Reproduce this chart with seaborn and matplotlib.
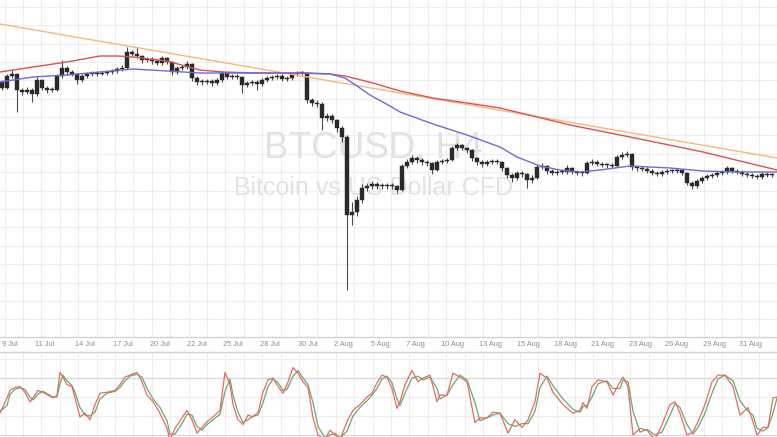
import numpy as np
import pandas as pd
import matplotlib
matplotlib.use("Agg")
import matplotlib.pyplot as plt
from matplotlib.ticker import FixedLocator
import seaborn as sns

# ---------------- data ----------------
first_open = 638
closes = [632, 644, 646, 630, 628, 630, 626, 640, 632, 630,
          630, 644, 652, 648, 646, 640, 644, 646, 647, 646,
          647, 648, 649, 651, 652, 668, 666, 664, 660, 661,
          659, 657, 662, 658, 648, 652, 653, 656, 642, 638,
          638, 639, 637, 640, 647, 643, 644, 643, 635, 637,
          638, 636, 640, 642, 643, 644, 641, 642, 646, 647,
          647, 620, 617, 616, 602, 604, 600, 592, 583, 505,
          508, 520, 532, 534, 536, 534, 535, 534, 534, 530,
          554, 558, 562, 560, 558, 557, 550, 558, 559, 560,
          572, 575, 572, 570, 562, 558, 556, 558, 559, 558,
          552, 545, 542, 547, 546, 540, 542, 553, 554, 549,
          547, 548, 548, 552, 548, 547, 547, 557, 558, 556,
          555, 555, 554, 563, 565, 566, 553, 552, 551, 549,
          547, 546, 548, 549, 549, 550, 547, 537, 534, 539,
          542, 544, 545, 547, 548, 552, 549, 548, 546, 545,
          544, 543, 546, 545, 545]
highs = [640, 646, 650, 647, 632, 633, 632, 643, 641, 634,
         633, 646, 660, 654, 650, 647, 646, 648, 649, 649,
         649, 650, 651, 653, 655, 673, 670, 673, 665, 663,
         663, 661, 664, 663, 659, 654, 655, 659, 657, 644,
         641, 641, 641, 642, 649, 648, 646, 646, 644, 639,
         640, 640, 642, 644, 645, 646, 646, 644, 648, 649,
         649, 648, 622, 620, 618, 607, 606, 601, 594, 585,
         518, 524, 536, 537, 539, 538, 537, 537, 537, 535,
         556, 561, 565, 564, 562, 560, 558, 560, 561, 562,
         574, 577, 576, 573, 571, 563, 560, 560, 561, 561,
         559, 553, 547, 549, 549, 547, 545, 555, 557, 555,
         551, 550, 550, 555, 553, 550, 549, 559, 561, 560,
         558, 557, 557, 565, 568, 569, 567, 555, 554, 553,
         551, 549, 550, 551, 551, 552, 551, 548, 539, 541,
         544, 546, 547, 549, 550, 554, 553, 551, 550, 548,
         547, 546, 548, 548, 547]
lows = [630, 631, 642, 608, 625, 626, 618, 624, 630, 627,
        628, 629, 642, 645, 644, 636, 638, 642, 644, 644,
        645, 645, 646, 647, 649, 651, 664, 662, 657, 658,
        656, 655, 655, 656, 645, 646, 650, 651, 639, 635,
        635, 636, 634, 635, 638, 641, 641, 641, 627, 633,
        635, 630, 634, 638, 640, 641, 639, 639, 640, 644,
        645, 617, 614, 613, 590, 599, 597, 588, 578, 430,
        495, 504, 517, 529, 531, 531, 531, 531, 531, 527,
        529, 552, 556, 557, 555, 554, 546, 549, 556, 557,
        559, 570, 570, 567, 559, 555, 553, 554, 556, 556,
        549, 542, 538, 540, 543, 532, 537, 541, 551, 546,
        545, 545, 546, 546, 546, 545, 544, 546, 555, 554,
        553, 552, 552, 553, 561, 563, 550, 549, 549, 547,
        545, 544, 544, 546, 547, 547, 545, 535, 531, 532,
        537, 540, 542, 543, 545, 546, 547, 546, 544, 543,
        542, 541, 541, 543, 543]

# moving averages / trendline (bar index, price)
blue_x = [-0.4, 6.2, 13, 19.6, 26.2, 33, 39.6, 51, 61.6, 65.6, 68.6, 71, 73.6, 77.6,
          79.6, 86.2, 93, 99.6, 103, 107.6, 111.6, 115.6, 119.6, 125.6, 133.6, 140.2, 147, 155]
blue_v = [638, 643, 645, 648, 651, 649, 647, 647, 647, 646, 642, 634, 625, 614,
          608, 596, 585, 573, 563, 554, 550, 548, 550, 554, 552, 549, 548, 548]
red_x = [-0.4, 6.2, 13, 19.6, 23, 26.2, 33, 36.6, 39.6, 44.2, 51, 57.6, 65.6, 68.6,
         71, 74.2, 79.6, 86.2, 93, 99.6, 113.6, 126.6, 140.2, 155]
red_v = [648, 653, 658, 664, 664, 663, 659, 654, 650, 648, 647, 647, 646, 644,
         641, 637, 629, 622, 617, 612, 595, 582, 568, 550]
trend_x = [-0.4, 155]
trend_v = [696, 562]

# stochastic oscillator (bar index, value)
osc_x = [-0.4, 1, 1.6, 2.6, 3.6, 4.6, 5.6, 6.2, 7.2, 8.2,
         9.2, 10.2, 11, 11.6, 12.2, 13, 14, 14.6, 15.6, 16.6,
         17.6, 18.6, 19.6, 21, 22.6, 23.6, 24.6, 25.6, 27, 28,
         29, 30.2, 31.6, 33, 33.6, 34.6, 36, 37, 38, 39,
         40, 41, 42.2, 43.6, 44.6, 45.6, 46.2, 47.2, 48.2, 49.2,
         50.2, 51.2, 52.2, 53.2, 54.2, 55.2, 56.2, 57, 58.2, 59.2,
         60.2, 61.2, 62.2, 63.2, 64.6, 65.6, 66.6, 67.6, 69, 70.2,
         71.6, 73, 74, 75, 76, 77, 78, 79, 79.6, 80.6,
         82, 83.2, 84.2, 85.6, 87, 87.6, 89, 90.2, 91.6, 93,
         94.6, 95.6, 97, 98.2, 99.6, 101.2, 102.6, 104, 105.2, 106.6,
         107.6, 109, 110.2, 112.2, 114.2, 115.6, 116.2, 117, 118, 119.2,
         121, 122.2, 123.6, 124.2, 125.2, 126.2, 127.6, 129, 130.6, 132,
         133.6, 134.6, 135.6, 137, 138.2, 139.2, 140.6, 142, 143.2, 144.6,
         146.2, 147.6, 149.2, 150.2, 151, 152.2, 153.2, 154.2, 155]
stoch_k = [43, 59, 67, 70, 71, 65, 55, 59, 67, 65,
           62, 59, 62, 86, 81, 73, 71, 59, 39, 43,
           36, 52, 64, 65, 67, 73, 81, 83, 86, 76,
           62, 55, 43, 27, 15, 27, 38, 46, 36, 22,
           28, 34, 39, 46, 86, 73, 52, 36, 31, 41,
           39, 44, 65, 78, 80, 71, 64, 73, 91, 85,
           76, 70, 38, 20, 15, 25, 20, 15, 34, 46,
           52, 60, 64, 75, 83, 81, 69, 48, 55, 73,
           88, 76, 80, 83, 55, 62, 62, 85, 81, 76,
           33, 38, 38, 44, 43, 22, 36, 28, 36, 55,
           85, 80, 65, 52, 43, 46, 54, 48, 71, 78,
           76, 62, 76, 81, 71, 20, 27, 25, 15, 31,
           52, 55, 43, 20, 23, 34, 52, 76, 83, 83,
           71, 41, 49, 34, 20, 28, 28, 59, 60]
stoch_d = [45, 51, 63, 68, 70, 68, 60, 57, 63, 66,
           63, 60, 60, 74, 83, 77, 72, 65, 49, 41,
           40, 44, 58, 64, 66, 70, 77, 82, 84, 81,
           69, 58, 49, 35, 21, 21, 32, 42, 41, 29,
           25, 31, 36, 42, 66, 79, 62, 44, 33, 36,
           40, 41, 54, 71, 79, 75, 67, 68, 82, 88,
           80, 73, 54, 29, 17, 20, 22, 17, 24, 40,
           49, 56, 62, 69, 79, 82, 75, 58, 51, 64,
           80, 82, 78, 81, 69, 58, 62, 73, 83, 78,
           54, 35, 38, 41, 43, 32, 29, 32, 32, 45,
           70, 82, 72, 58, 47, 44, 50, 51, 60, 74,
           77, 69, 69, 78, 76, 45, 23, 26, 20, 23,
           41, 53, 49, 31, 21, 28, 43, 64, 79, 83,
           77, 56, 45, 41, 27, 24, 28, 43, 59]

date_labels = ["9 Jul", "11 Jul", "14 Jul", "17 Jul", "20 Jul", "22 Jul", "25 Jul",
               "28 Jul", "30 Jul", "2 Aug", "5 Aug", "7 Aug", "10 Aug", "13 Aug",
               "15 Aug", "18 Aug", "21 Aug", "23 Aug", "26 Aug", "29 Aug", "31 Aug"]
date_pos = [1.6, 8.6, 16.6, 24.2, 31.6, 39, 46.2, 53.6, 61.2, 68.2, 75.6,
            82.6, 90, 97.6, 105.2, 112.6, 120, 127.6, 134.8, 142.4, 149.6]

# ---------------- drawing ----------------
sns.set_theme(style="white")
plt.rcParams['font.family'] = ['Liberation Sans', 'DejaVu Sans']

fig = plt.figure(figsize=(7.77, 4.37), dpi=100)
ax = fig.add_axes([0, 1 - 337 / 437, 1, 337 / 437])
ax2 = fig.add_axes([0, 0, 1, 85 / 437], sharex=ax)

n = len(closes)
idx = np.arange(n)
opens = np.array([first_open] + closes[:-1], dtype=float)
c = np.array(closes, dtype=float)
body_lo = np.minimum(opens, c)
body_h = np.maximum(np.abs(c - opens), 0.8)

GRID = "#eeeeee"
xmin, xmax = -0.4, 155.0
grid_x = np.arange(0.52, xmax, 3.68)

# main panel
ax.set_xlim(xmin, xmax)
ax.set_ylim(383, 720)
ax.set_yticks(np.arange(713.3, 383, -18.4))
ax.set_yticklabels([])
ax.tick_params(axis='y', length=0)
ax.xaxis.set_minor_locator(FixedLocator(grid_x))
ax.set_xticks(date_pos)
ax.set_xticklabels(date_labels)
ax.tick_params(axis='x', which='both', length=0, labelsize=5.3, colors='#8c8c8c', pad=3)
ax.grid(which='minor', axis='x', color=GRID, lw=0.8)
ax.grid(which='major', axis='x', visible=False)
ax.grid(which='major', axis='y', color=GRID, lw=0.8)
ax.set_axisbelow(True)
for s in ['top', 'left', 'right']:
    ax.spines[s].set_visible(False)
ax.spines['bottom'].set_color('#d2d2d2')
ax.spines['bottom'].set_linewidth(1.0)

ax.text(373 / 777, 1 - 158 / 337, "BTCUSD, H4", transform=ax.transAxes, ha='center',
        va='baseline', fontsize=26.5, color='#e2e2e2', zorder=1)
ax.text(373 / 777, 1 - 195 / 337, "Bitcoin vs US Dollar CFD", transform=ax.transAxes,
        ha='center', va='baseline', fontsize=18, color='#e2e2e2', zorder=1)

ax.vlines(idx, lows, highs, color='#4a4a4a', lw=0.8, zorder=3)
ax.bar(idx, body_h, bottom=body_lo, width=0.65, color='#2a2a2a',
       edgecolor='#2a2a2a', linewidth=0.3, zorder=4)

sns.lineplot(x=trend_x, y=trend_v, ax=ax, color='#f6b77a', lw=1.0, legend=False, zorder=5)
sns.lineplot(x=red_x, y=red_v, ax=ax, color='#de5050', lw=1.0, legend=False, zorder=6)
sns.lineplot(x=blue_x, y=blue_v, ax=ax, color='#6b6bd8', lw=1.0, legend=False, zorder=7)
ax.set_xlabel("")
ax.set_ylabel("")

# oscillator panel
ax2.set_ylim(17.9, 107.4)
ax2.set_yticks([20, 40, 60, 80, 100])
ax2.set_yticklabels([])
ax2.tick_params(axis='both', which='both', length=0, labelbottom=False)
ax2.grid(which='minor', axis='x', color=GRID, lw=0.8)
ax2.grid(which='major', axis='x', visible=False)
ax2.grid(which='major', axis='y', color=GRID, lw=0.8)
ax2.set_axisbelow(True)
ax2.axhline(80, color='#d9d9d9', lw=0.9, zorder=1)
ax2.axhline(20, color='#d9d9d9', lw=0.9, zorder=1)
for s in ['bottom', 'left', 'right']:
    ax2.spines[s].set_visible(False)
ax2.spines['top'].set_color('#d2d2d2')
ax2.spines['top'].set_linewidth(1.0)

sns.lineplot(x=osc_x, y=stoch_d, ax=ax2, color='#6aa86a', lw=0.9, legend=False, zorder=3)
sns.lineplot(x=osc_x, y=stoch_k, ax=ax2, color='#e86a62', lw=0.9, legend=False, zorder=4)
ax2.set_xlabel("")
ax2.set_ylabel("")
ax2.set_xlim(xmin, xmax)

fig.savefig("out.png", dpi=100)
